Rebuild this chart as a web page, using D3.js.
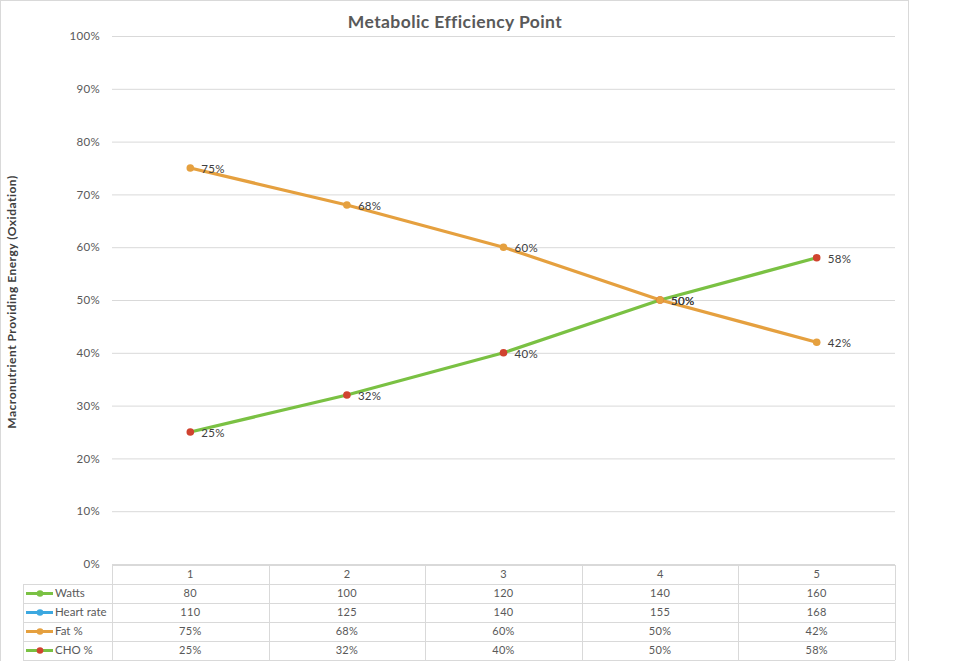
<!DOCTYPE html>
<html><head><meta charset="utf-8">
<script src="https://cdn.jsdelivr.net/npm/d3@7"></script>
<style>body{margin:0;background:#fff;}svg{display:block;font-family:Lato,"Open Sans",sans-serif;}</style>
</head><body>
<svg id="c" width="960" height="661"></svg>
<script>
const categories = ["1","2","3","4","5"];
const watts = [80,100,120,140,160];
const heartRate = [110,125,140,155,168];
const fatPct = [0.75,0.68,0.60,0.50,0.42];
const choPct = [0.25,0.32,0.40,0.50,0.58];
const yTicks = [0,0.1,0.2,0.3,0.4,0.5,0.6,0.7,0.8,0.9,1.0];

const svg = d3.select("#c");
const L = 112, R = 895, T = 36, B = 564;
const fmtPct = d3.format(".0%");

// outer frame
svg.append("rect").attr("x",0.5).attr("y",0.5).attr("width",908).attr("height",670)
  .attr("fill","#fff").attr("stroke","#d9d9d9");

const x = d3.scaleBand().domain(categories).range([L,R]);
const y = d3.scaleLinear().domain([0,1]).range([B,T]);

// gridlines
const gy = svg.append("g").attr("transform",`translate(${L},0)`)
  .call(d3.axisLeft(y).tickValues(yTicks).tickSize(-(R-L)).tickFormat(fmtPct).tickPadding(12));
gy.select(".domain").remove();
gy.selectAll(".tick line").attr("stroke","#d9d9d9");
gy.selectAll(".tick text").attr("fill","#595959").style("font-size","11.5px").style("letter-spacing","0.3px").style("font-family","Lato,'Open Sans',sans-serif");

// title
svg.append("text").attr("x",455).attr("y",28).attr("text-anchor","middle")
  .attr("fill","#595959").style("font-size","17.5px").style("letter-spacing","0.4px").style("font-weight","bold").text("Metabolic Efficiency Point");
// y title
svg.append("text").attr("transform","translate(16,302) rotate(-90)").attr("text-anchor","middle")
  .attr("fill","#404040").style("font-size","12px").style("letter-spacing","0.5px").style("font-weight","bold")
  .text("Macronutrient Providing Energy (Oxidation)");

const cx = c => x(c) + x.bandwidth()/2;
const line = d3.line().x((d,i)=>cx(categories[i])).y(d=>y(d));

const series = [
  {name:"CHO %", vals:choPct, color:"#7ac143", marker:"#d0432f"},
  {name:"Fat %", vals:fatPct, color:"#e5a03f", marker:"#e5a03f"}
];
series.forEach(s=>{
  svg.append("path").datum(s.vals).attr("d",line).attr("fill","none")
    .attr("stroke",s.color).attr("stroke-width",3.2).attr("stroke-linejoin","round");
});
series.forEach(s=>{
  svg.selectAll(null).data(s.vals).enter().append("circle")
    .attr("cx",(d,i)=>cx(categories[i])).attr("cy",d=>y(d)).attr("r",3.8).attr("fill",s.marker);
});
series.forEach(s=>{
  svg.selectAll(null).data(s.vals).enter().append("text")
    .attr("x",(d,i)=>cx(categories[i])+11).attr("y",d=>y(d)+5)
    .attr("fill","#404040").style("font-size","11.5px").style("letter-spacing","0.3px").text(d=>fmtPct(d));
});

// data table
const rowsTop = 565, rowH = 19;
const tbl = svg.append("g");
const gridC = "#d9d9d9";
categories.forEach(c=>{
  tbl.append("text").attr("x",cx(c)).attr("y",rowsTop+13).attr("text-anchor","middle")
    .attr("fill","#595959").style("font-size","11px").text(c);
});
const tableRows = [
  {name:"Watts", vals:watts.map(String), color:"#7ac143", marker:"#7ac143"},
  {name:"Heart rate", vals:heartRate.map(String), color:"#3ca8e0", marker:"#3ca8e0"},
  {name:"Fat %", vals:fatPct.map(fmtPct), color:"#e5a03f", marker:"#e5a03f"},
  {name:"CHO %", vals:choPct.map(fmtPct), color:"#7ac143", marker:"#d0432f"}
];
tableRows.forEach((r,k)=>{
  const ty = rowsTop + rowH*(k+1);
  tbl.append("line").attr("x1",26).attr("x2",53).attr("y1",ty+rowH/2).attr("y2",ty+rowH/2)
    .attr("stroke",r.color).attr("stroke-width",3);
  tbl.append("circle").attr("cx",40).attr("cy",ty+rowH/2).attr("r",3.3).attr("fill",r.marker);
  tbl.append("text").attr("x",55).attr("y",ty+13).attr("fill","#595959").style("font-size","11.5px").text(r.name);
  r.vals.forEach((v,i)=>{
    tbl.append("text").attr("x",cx(categories[i])).attr("y",ty+13).attr("text-anchor","middle")
      .attr("fill","#595959").style("font-size","11px").style("letter-spacing","0.3px").text(v);
  });
});
for(let k=0;k<=5;k++){
  const yy = rowsTop + rowH*k + 0.5;
  tbl.append("line").attr("x1",k===0?L:23).attr("x2",R).attr("y1",yy).attr("y2",yy).attr("stroke",gridC);
}
tbl.append("line").attr("x1",23.5).attr("x2",23.5).attr("y1",rowsTop+rowH).attr("y2",rowsTop+rowH*5).attr("stroke",gridC);
categories.forEach(c=>{
  const xx = Math.round(x(c))+0.5;
  tbl.append("line").attr("x1",xx).attr("x2",xx).attr("y1",rowsTop).attr("y2",rowsTop+rowH*5).attr("stroke",gridC);
});
tbl.append("line").attr("x1",R+0.5).attr("x2",R+0.5).attr("y1",rowsTop).attr("y2",rowsTop+rowH*5).attr("stroke",gridC);
</script>
</body></html>
